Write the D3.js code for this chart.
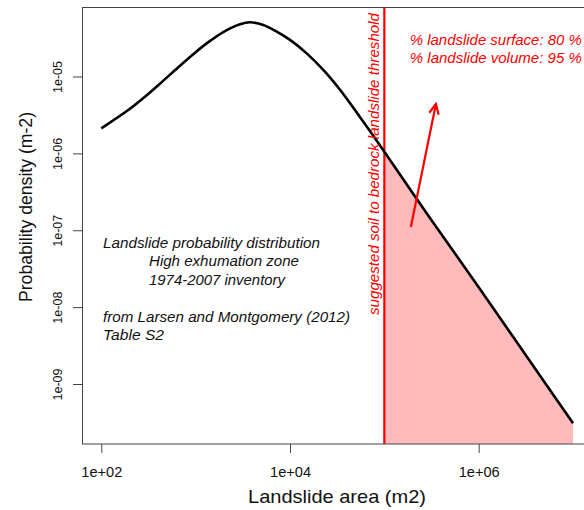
<!DOCTYPE html>
<html><head><meta charset="utf-8">
<script src="https://cdn.jsdelivr.net/npm/d3@7"></script>
<style>
body{margin:0;background:#fff}
text{font-family:"Liberation Sans",Arial,Helvetica,sans-serif}
</style>
</head><body>
<svg id="chart" width="584" height="510"></svg>
<script>
// ---- data ----
const areas = [100, 193, 290, 437, 655, 984, 1309, 1963, 2951, 3767, 5212, 7228, 10000, 15030, 22540, 33880, 50930, 76400, 100000, 316228, 1000000, 3162278, 10000000];
const densities = [2.12e-6, 3.66e-6, 5.45e-6, 8.45e-6, 1.32e-5, 2.04e-5, 2.70e-5, 3.79e-5, 4.78e-5, 5.07e-5, 4.68e-5, 3.83e-5, 2.99e-5, 2.00e-5, 1.22e-5, 6.73e-6, 3.40e-6, 1.69e-6, 1.05e-6, 1.35e-7, 1.82e-8, 2.36e-9, 3.08e-10];
const threshold = 1e5;
const xTicks = [1e2, 1e4, 1e6];
const xTickLabels = ["1e+02", "1e+04", "1e+06"];
const yTicks = [1e-5, 1e-6, 1e-7, 1e-8, 1e-9];
const yTickLabels = ["1e-05", "1e-06", "1e-07", "1e-08", "1e-09"];
const xTitle = "Landslide area (m2)";
const yTitle = "Probability density (m-2)";
const thresholdLabel = "suggested soil to bedrock landslide threshold";
const redNotes = ["% landslide surface: 80 %", "% landslide volume: 95 %"];
const blackNotes = ["Landslide probability distribution", "High exhumation zone", "1974-2007 inventory", "", "from Larsen and Montgomery (2012)", "Table S2"];
const arrowFrom = [1.91e5, 1.10e-7];
const arrowTo = [3.52e5, 4.39e-6];

// ---- layout ----
const svg = d3.select("#chart");
const box = {left: 82.5, top: 7.5, right: 592, bottom: 444};
const x = d3.scaleLog().domain([1e2, 1e6]).range([101.3, 478.7]);
const y = d3.scaleLog().domain([1e-5, 1e-9]).range([76.5, 384]);
const pts = areas.map((a, i) => [a, densities[i]]);
const curve = d3.curveCatmullRom.alpha(0.5);

svg.append("clipPath").attr("id", "clip").append("rect")
  .attr("x", box.left).attr("y", box.top)
  .attr("width", box.right - box.left).attr("height", box.bottom - box.top);
const plot = svg.append("g").attr("clip-path", "url(#clip)");

// filled tail
const tail = pts.filter(p => p[0] >= threshold);
plot.append("path")
  .datum(tail)
  .attr("fill", "#ffbbbb")
  .attr("d", d3.area().x(d => x(d[0])).y0(box.bottom + 5).y1(d => y(d[1])).curve(curve));

// threshold line
plot.append("line")
  .attr("x1", x(threshold)).attr("x2", x(threshold))
  .attr("y1", box.top).attr("y2", box.bottom)
  .attr("stroke", "#ff0000").attr("stroke-width", 2.2);

// density curve
plot.append("path")
  .datum(pts)
  .attr("fill", "none").attr("stroke", "#000").attr("stroke-width", 2.6)
  .attr("stroke-linejoin", "round")
  .attr("d", d3.line().x(d => x(d[0])).y(d => y(d[1])).curve(curve));

// arrow
const ax0 = x(arrowFrom[0]), ay0 = y(arrowFrom[1]), ax1 = x(arrowTo[0]), ay1 = y(arrowTo[1]);
plot.append("line").attr("x1", ax0).attr("y1", ay0).attr("x2", ax1).attr("y2", ay1)
  .attr("stroke", "#ff0000").attr("stroke-width", 2.2);
const ang = Math.atan2(ay1 - ay0, ax1 - ax0), hl = 11, ha = Math.PI / 7;
plot.append("path")
  .attr("d", `M${ax1 - hl*Math.cos(ang - ha)},${ay1 - hl*Math.sin(ang - ha)}L${ax1},${ay1}L${ax1 - hl*Math.cos(ang + ha)},${ay1 - hl*Math.sin(ang + ha)}`)
  .attr("fill", "none").attr("stroke", "#ff0000").attr("stroke-width", 2.2);

// box
svg.append("rect").attr("x", box.left).attr("y", box.top)
  .attr("width", box.right - box.left).attr("height", box.bottom - box.top)
  .attr("fill", "none").attr("stroke", "#444").attr("stroke-width", 1);

// x axis
const gx = svg.append("g").attr("transform", `translate(0,${box.bottom})`)
  .call(d3.axisBottom(x).tickValues(xTicks).tickFormat((d, i) => xTickLabels[i]).tickSize(9).tickPadding(14));
gx.select(".domain").remove();
gx.selectAll(".tick line").attr("stroke", "#444");
gx.selectAll(".tick text").attr("font-size", 14).attr("fill", "#111")
  .attr("textLength", 41).attr("lengthAdjust", "spacingAndGlyphs");

// y axis
const gy = svg.append("g").attr("transform", `translate(${box.left},0)`)
  .call(d3.axisLeft(y).tickValues(yTicks).tickFormat((d, i) => yTickLabels[i]).tickSize(9.5));
gy.select(".domain").remove();
gy.selectAll(".tick line").attr("stroke", "#444");
gy.selectAll(".tick text")
  .attr("x", null).attr("dy", null)
  .attr("text-anchor", "middle")
  .attr("transform", "translate(-21,0) rotate(-90)")
  .attr("font-size", 13).attr("fill", "#111")
  .attr("textLength", 32).attr("lengthAdjust", "spacingAndGlyphs");

// axis titles
svg.append("text").attr("x", 337).attr("y", 503).attr("text-anchor", "middle")
  .attr("font-size", 19).attr("fill", "#111")
  .attr("textLength", 178).attr("lengthAdjust", "spacingAndGlyphs").text(xTitle);
svg.append("text").attr("transform", "translate(32,207) rotate(-90)").attr("text-anchor", "middle")
  .attr("font-size", 18).attr("fill", "#111")
  .attr("textLength", 190).attr("lengthAdjust", "spacingAndGlyphs").text(yTitle);

// threshold label
svg.append("text").attr("transform", `translate(${x(threshold) - 5},164) rotate(-90)`).attr("text-anchor", "middle")
  .attr("font-size", 14).attr("font-style", "italic").attr("fill", "#ff0000")
  .attr("textLength", 302).attr("lengthAdjust", "spacingAndGlyphs").text(thresholdLabel);

// red notes
const redX = x(1.86e5);
redNotes.forEach((t, i) => {
  svg.append("text").attr("x", redX).attr("y", 45 + i * 17.5)
    .attr("font-size", 14).attr("font-style", "italic").attr("fill", "#ff0000")
    .attr("textLength", 172).attr("lengthAdjust", "spacingAndGlyphs").text(t);
});

// black notes
const bx = [103, 149, 149, 0, 103, 103];
const bw = [217, 150, 136, 0, 247, 61];
blackNotes.forEach((t, i) => {
  if (!t) return;
  svg.append("text").attr("x", bx[i]).attr("y", 248 + i * 18.4)
    .attr("font-size", 14).attr("font-style", "italic").attr("fill", "#111")
    .attr("textLength", bw[i]).attr("lengthAdjust", "spacingAndGlyphs").text(t);
});
</script>
</body></html>
